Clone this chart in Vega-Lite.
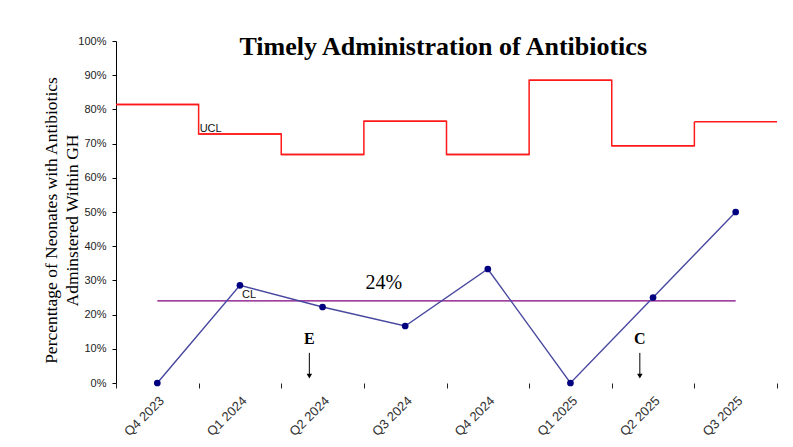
{
  "$schema": "https://vega.github.io/schema/vega-lite/v6.json",
  "autosize": {"type": "none"},
  "width": 661,
  "height": 342,
  "padding": {"left": 116, "top": 41, "right": 16, "bottom": 64},
  "background": "white",
  "config": {
    "view": {"stroke": null},
    "axisX": {
      "labelAngle": -45,
      "labelFont": "Liberation Sans",
      "labelFontSize": 13,
      "labelColor": "#333333",
      "tickBand": "extent",
      "ticks": true,
      "tickSize": 5,
      "tickColor": "#222222",
      "domain": false,
      "grid": false,
      "labelPadding": 6
    },
    "axisY": {
      "labelOverlap": false,
      "grid": false,
      "domainColor": "black",
      "tickColor": "black",
      "tickSize": 4,
      "labelFont": "Liberation Sans",
      "labelFontSize": 11,
      "labelColor": "#222222",
      "labelPadding": 6,
      "titleFont": "Liberation Serif",
      "titleFontSize": 17.5,
      "titleFontWeight": "normal",
      "titleColor": "black",
      "titleAngle": -90,
      "titleAlign": "center",
      "titleBaseline": "middle",
      "titleLineHeight": 21,
      "titleX": -65,
      "titleY": 179
    }
  },
  "data": {
    "values": [
      {"quarter": "Q4 2023", "pct": 0.0, "ucl": 0.814, "cl": 0.24},
      {"quarter": "Q1 2024", "pct": 0.2857, "ucl": 0.728, "cl": 0.24},
      {"quarter": "Q2 2024", "pct": 0.2222, "ucl": 0.668, "cl": 0.24},
      {"quarter": "Q3 2024", "pct": 0.1667, "ucl": 0.765, "cl": 0.24},
      {"quarter": "Q4 2024", "pct": 0.3333, "ucl": 0.668, "cl": 0.24},
      {"quarter": "Q1 2025", "pct": 0.0, "ucl": 0.885, "cl": 0.24},
      {"quarter": "Q2 2025", "pct": 0.25, "ucl": 0.694, "cl": 0.24},
      {"quarter": "Q3 2025", "pct": 0.50, "ucl": 0.764, "cl": 0.24}
    ]
  },
  "encoding": {
    "x": {
      "field": "quarter",
      "type": "ordinal",
      "sort": null,
      "scale": {"paddingInner": 0, "paddingOuter": 0},
      "axis": {"title": null, "labelFontSize": 13, "labelAngle": -45}
    }
  },
  "layer": [
    {
      "mark": {"type": "line", "interpolate": "step-after", "color": "#ff1a1a", "strokeWidth": 1.5},
      "encoding": {
        "x": {"field": "quarter", "type": "ordinal", "sort": null, "bandPosition": 0, "axis": {"title": null, "labelFontSize": 13, "labelAngle": -45}},
        "y": {
          "field": "ucl",
          "type": "quantitative",
          "scale": {"domain": [0, 1], "nice": false},
          "axis": {
            "format": ".0%",
            "values": [0, 0.1, 0.2, 0.3, 0.4, 0.5, 0.6, 0.7, 0.8, 0.9, 1.0],
            "labelOverlap": false,
            "title": ["Percenttage of Neonates with Antibiotics", "Adminstered Within GH"]
          }
        }
      }
    },
    {
      "mark": {"type": "rule", "color": "#ff1a1a", "strokeWidth": 1.5},
      "encoding": {
        "x": {"field": "quarter", "type": "ordinal", "sort": null, "bandPosition": 0, "axis": {"title": null, "labelFontSize": 13, "labelAngle": -45}},
        "x2": {"field": "quarter", "bandPosition": 1},
        "y": {"field": "ucl", "type": "quantitative", "axis": {"format": ".0%", "values": [0, 0.1, 0.2, 0.3, 0.4, 0.5, 0.6, 0.7, 0.8, 0.9, 1.0], "labelOverlap": false}}
      }
    },
    {
      "mark": {"type": "rule", "color": "#ff5555", "strokeWidth": 2},
      "encoding": {"y": {"datum": 0, "type": "quantitative", "axis": {"format": ".0%", "values": [0, 0.1, 0.2, 0.3, 0.4, 0.5, 0.6, 0.7, 0.8, 0.9, 1.0], "labelOverlap": false}}}
    },
    {
      "mark": {"type": "line", "color": "#800080", "strokeWidth": 1.2},
      "encoding": {
        "y": {"field": "cl", "type": "quantitative", "axis": {"format": ".0%", "values": [0, 0.1, 0.2, 0.3, 0.4, 0.5, 0.6, 0.7, 0.8, 0.9, 1.0], "labelOverlap": false}}
      }
    },
    {
      "mark": {"type": "line", "color": "#4848a0", "strokeWidth": 1.4},
      "encoding": {
        "y": {"field": "pct", "type": "quantitative", "axis": {"format": ".0%", "values": [0, 0.1, 0.2, 0.3, 0.4, 0.5, 0.6, 0.7, 0.8, 0.9, 1.0], "labelOverlap": false}}
      }
    },
    {
      "mark": {"type": "point", "filled": true, "color": "#000080", "size": 45, "opacity": 1},
      "encoding": {
        "y": {"field": "pct", "type": "quantitative", "axis": {"format": ".0%", "values": [0, 0.1, 0.2, 0.3, 0.4, 0.5, 0.6, 0.7, 0.8, 0.9, 1.0], "labelOverlap": false}}
      }
    },
    {
      "transform": [{"filter": "datum.quarter == 'Q1 2024'"}],
      "mark": {"type": "text", "text": "UCL", "font": "Liberation Sans", "fontSize": 11, "color": "#111111", "align": "left", "baseline": "bottom", "dx": 1, "dy": 0},
      "encoding": {
        "x": {"field": "quarter", "type": "ordinal", "sort": null, "bandPosition": 0, "axis": {"title": null, "labelFontSize": 13, "labelAngle": -45}},
        "y": {"field": "ucl", "type": "quantitative", "axis": {"format": ".0%", "values": [0, 0.1, 0.2, 0.3, 0.4, 0.5, 0.6, 0.7, 0.8, 0.9, 1.0], "labelOverlap": false}}
      }
    },
    {
      "transform": [{"filter": "datum.quarter == 'Q1 2024'"}],
      "mark": {"type": "text", "text": "CL", "font": "Liberation Sans", "fontSize": 11, "color": "#111111", "align": "left", "baseline": "bottom", "dx": 2, "dy": -1},
      "encoding": {
        "y": {"field": "cl", "type": "quantitative", "axis": {"format": ".0%", "values": [0, 0.1, 0.2, 0.3, 0.4, 0.5, 0.6, 0.7, 0.8, 0.9, 1.0], "labelOverlap": false}}
      }
    },
    {
      "transform": [{"filter": "datum.quarter == 'Q3 2024'"}],
      "mark": {"type": "text", "text": "24%", "font": "Liberation Serif", "fontSize": 20, "color": "black", "align": "center", "baseline": "middle"},
      "encoding": {
        "x": {"field": "quarter", "type": "ordinal", "sort": null, "bandPosition": 0.24, "axis": {"title": null, "labelFontSize": 13, "labelAngle": -45}},
        "y": {"datum": 0.292, "type": "quantitative", "axis": {"format": ".0%", "values": [0, 0.1, 0.2, 0.3, 0.4, 0.5, 0.6, 0.7, 0.8, 0.9, 1.0], "labelOverlap": false}}
      }
    },
    {
      "transform": [{"filter": "datum.quarter == 'Q3 2024'"}],
      "mark": {"type": "text", "text": "Timely Administration of Antibiotics", "font": "Liberation Serif", "fontSize": 26, "fontWeight": "bold", "color": "black", "align": "center", "baseline": "alphabetic"},
      "encoding": {
        "x": {"field": "quarter", "type": "ordinal", "sort": null, "bandPosition": 0.96, "axis": {"title": null, "labelFontSize": 13, "labelAngle": -45}},
        "y": {"datum": 0.959, "type": "quantitative", "axis": {"format": ".0%", "values": [0, 0.1, 0.2, 0.3, 0.4, 0.5, 0.6, 0.7, 0.8, 0.9, 1.0], "labelOverlap": false}}
      }
    },
    {
      "data": {"values": [{"quarter": "Q2 2024", "note": "E"}, {"quarter": "Q2 2025", "note": "C"}]},
      "layer": [
        {
          "mark": {"type": "text", "font": "Liberation Serif", "fontSize": 16, "fontWeight": "bold", "color": "black", "align": "center", "baseline": "middle"},
          "encoding": {
            "x": {"field": "quarter", "type": "ordinal", "sort": null, "bandPosition": 0.34, "axis": {"title": null, "labelFontSize": 13, "labelAngle": -45}},
            "y": {"datum": 0.13, "type": "quantitative", "axis": {"format": ".0%", "values": [0, 0.1, 0.2, 0.3, 0.4, 0.5, 0.6, 0.7, 0.8, 0.9, 1.0], "labelOverlap": false}},
            "text": {"field": "note"}
          }
        },
        {
          "mark": {"type": "rule", "color": "black", "strokeWidth": 1},
          "encoding": {
            "x": {"field": "quarter", "type": "ordinal", "sort": null, "bandPosition": 0.34, "axis": {"title": null, "labelFontSize": 13, "labelAngle": -45}},
            "y": {"datum": 0.088, "type": "quantitative", "axis": {"format": ".0%", "values": [0, 0.1, 0.2, 0.3, 0.4, 0.5, 0.6, 0.7, 0.8, 0.9, 1.0], "labelOverlap": false}},
            "y2": {"datum": 0.02}
          }
        },
        {
          "mark": {"type": "point", "shape": "triangle-down", "filled": true, "color": "black", "size": 30, "opacity": 1},
          "encoding": {
            "x": {"field": "quarter", "type": "ordinal", "sort": null, "bandPosition": 0.34, "axis": {"title": null, "labelFontSize": 13, "labelAngle": -45}},
            "y": {"datum": 0.02, "type": "quantitative", "axis": {"format": ".0%", "values": [0, 0.1, 0.2, 0.3, 0.4, 0.5, 0.6, 0.7, 0.8, 0.9, 1.0], "labelOverlap": false}}
          }
        }
      ]
    }
  ]
}
